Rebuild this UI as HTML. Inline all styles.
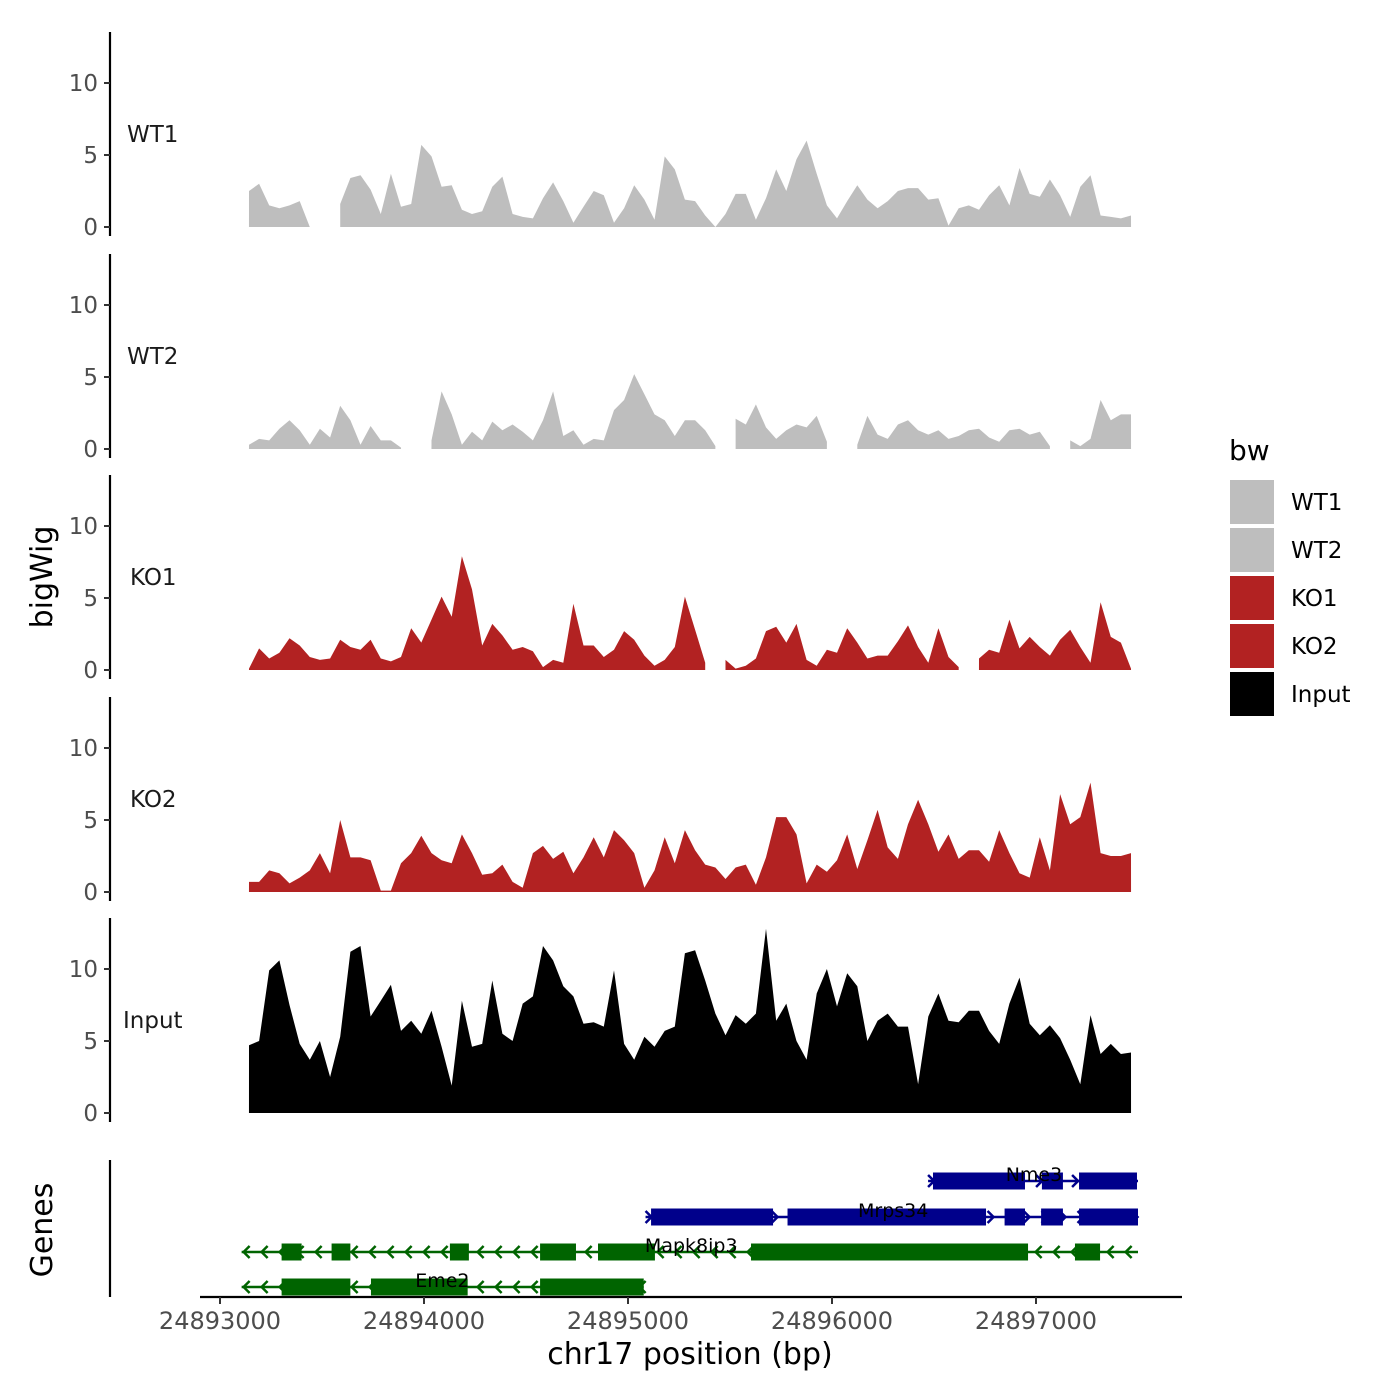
<!DOCTYPE html>
<html><head><meta charset="utf-8"><style>
html,body{margin:0;padding:0;background:#fff}
svg{display:block;font-family:"DejaVu Sans","Liberation Sans",sans-serif}
</style></head><body>
<svg id="chart" width="1400" height="1400" viewBox="0 0 1400 1400">
<rect width="1400" height="1400" fill="#fff"/>
<g id="tracks"></g>
<g id="genes"></g>
<g id="axes"></g>
<text x="52" y="577" transform="rotate(-90 52 577)" text-anchor="middle" font-size="30" fill="#000">bigWig</text>
<text x="52" y="1230" transform="rotate(-90 52 1230)" text-anchor="middle" font-size="30" fill="#000">Genes</text>
<text x="690" y="1364" text-anchor="middle" font-size="30" fill="#000">chr17 position (bp)</text>
<g id="legend">
<text x="1229" y="460" font-size="28" fill="#000">bw</text>
</g>
</svg>
<script>
const startBp = 24893142;
const stepBp = 49.7;
const trackNames = ["WT1","WT2","KO1","KO2","Input"];
const trackColors = ["#bebebe","#bebebe","#b22222","#b22222","#000000"];
const wt1 = [2.5,3.0,1.5,1.3,1.5,1.8,0,null,null,1.6,3.4,3.6,2.6,0.9,3.7,1.4,1.6,5.7,4.9,2.8,2.9,1.2,0.9,1.1,2.8,3.5,0.9,0.7,0.6,2.0,3.1,1.8,0.3,1.4,2.5,2.2,0.3,1.3,2.9,1.9,0.5,4.9,4.0,1.9,1.8,0.8,0,0.9,2.3,2.3,0.5,2.0,4.0,2.5,4.7,6.0,3.7,1.5,0.6,1.8,2.9,1.9,1.3,1.8,2.5,2.7,2.7,1.9,2.0,0.1,1.3,1.5,1.2,2.2,2.9,1.5,4.1,2.3,2.1,3.3,2.2,0.7,2.8,3.6,0.8,0.7,0.6,0.8];
const wt2 = [0.3,0.7,0.6,1.4,2.0,1.3,0.3,1.4,0.8,3.0,2.0,0.3,1.6,0.6,0.6,0.1,null,null,0.6,4.0,2.4,0.3,1.2,0.6,1.9,1.3,1.7,1.2,0.6,2.0,4.0,0.9,1.3,0.3,0.7,0.6,2.7,3.4,5.2,3.8,2.4,2.0,0.9,2.0,2.0,1.3,0.2,null,2.1,1.7,3.1,1.5,0.7,1.3,1.7,1.5,2.3,0.5,null,null,0.3,2.3,1.0,0.7,1.7,2.0,1.3,1.0,1.3,0.7,0.9,1.3,1.4,0.8,0.5,1.3,1.4,1.0,1.2,0.2,null,0.6,0.2,0.7,3.4,2.0,2.4,2.4];
const ko1 = [0.1,1.5,0.8,1.2,2.2,1.7,0.9,0.7,0.8,2.1,1.6,1.4,2.1,0.8,0.6,0.9,2.9,1.9,3.5,5.1,3.7,7.9,5.6,1.7,3.2,2.4,1.4,1.6,1.3,0.2,0.7,0.5,4.6,1.7,1.7,0.9,1.4,2.7,2.1,1.0,0.3,0.7,1.6,5.1,2.8,0.5,null,0.7,0.1,0.3,0.8,2.7,3.0,1.9,3.2,0.7,0.3,1.4,1.2,2.9,1.9,0.8,1.0,1.0,2.0,3.1,1.6,0.5,2.9,0.9,0.2,null,0.8,1.4,1.2,3.5,1.5,2.3,1.6,1.0,2.1,2.8,1.6,0.5,4.7,2.3,1.9,0.1];
const ko2 = [0.7,0.7,1.5,1.3,0.6,1.0,1.5,2.7,1.3,5.0,2.4,2.4,2.2,0.1,0.1,2.0,2.7,3.9,2.7,2.2,2.0,4.0,2.7,1.2,1.3,1.9,0.7,0.3,2.7,3.2,2.3,2.8,1.3,2.4,3.8,2.4,4.3,3.6,2.7,0.3,1.5,3.8,2.0,4.3,2.9,1.9,1.7,0.9,1.7,1.9,0.5,2.4,5.2,5.2,4.0,0.6,1.9,1.4,2.2,4.0,1.6,3.6,5.7,3.1,2.3,4.7,6.4,4.7,2.8,4.0,2.3,2.9,2.9,2.1,4.3,2.7,1.3,1.0,3.8,1.5,6.8,4.7,5.2,7.6,2.7,2.5,2.5,2.7];
const input = [4.7,5.0,9.9,10.6,7.5,4.8,3.7,5.0,2.5,5.3,11.2,11.6,6.7,7.8,8.9,5.7,6.4,5.5,7.1,4.6,1.9,7.8,4.6,4.8,9.2,5.5,5.0,7.6,8.1,11.6,10.6,8.8,8.1,6.2,6.3,6.0,9.9,4.8,3.7,5.3,4.6,5.7,6.0,11.1,11.3,9.2,6.9,5.4,6.8,6.2,6.9,12.8,6.4,7.6,5.0,3.7,8.3,10.0,7.4,9.7,8.8,5.0,6.4,6.9,6.0,6.0,2.0,6.7,8.3,6.4,6.3,7.1,7.1,5.7,4.8,7.6,9.4,6.2,5.4,6.1,5.2,3.7,2.0,6.8,4.1,4.8,4.1,4.2];
const trackValues = [wt1,wt2,ko1,ko2,input];
const yTicks = [0,5,10];
const xTicks = [24893000,24894000,24895000,24896000,24897000];
const geneNames = ["Nme3","Mrps34","Mapk8ip3","Eme2"];
const geneStrands = ["+","+","-","-"];
const geneStarts = [24896471,24895086,24893106,24893106];
const geneEnds = [24897500,24897500,24897500,24895077];
const geneExons = [
 [[24896495,24896946],[24897029,24897132],[24897211,24897495]],
 [[24895113,24895711],[24895782,24896755],[24896846,24896946],[24897025,24897132],[24897211,24897500]],
 [[24893302,24893400],[24893547,24893639],[24894127,24894220],[24894569,24894745],[24894853,24895132],[24895603,24896961],[24897191,24897314]],
 [[24893302,24893639],[24893740,24894214],[24894569,24895077]]
];
const geneLabelPos = [24896990,24896300,24895310,24894090];
const legendLabels = ["WT1","WT2","KO1","KO2","Input"];

const NS="http://www.w3.org/2000/svg";
function xScale(bp){return 220+(bp-24893000)*0.204;}
const trackZero=[227,449,670,892,1113];
function yScale(t,v){return trackZero[t]-v*14.4;}
function mk(tag,attrs,parent){const e=document.createElementNS(NS,tag);for(const k in attrs)e.setAttribute(k,attrs[k]);parent.appendChild(e);return e;}

const gT=document.getElementById('tracks');
const gA=document.getElementById('axes');
trackValues.forEach((vals,t)=>{
  let seg=[];const segs=[];
  vals.forEach((v,i)=>{if(v===null){if(seg.length)segs.push(seg);seg=[];}else seg.push(i);});
  if(seg.length)segs.push(seg);
  segs.forEach(s=>{
    let d='M'+xScale(startBp+s[0]*stepBp)+','+trackZero[t];
    s.forEach(i=>{d+='L'+xScale(startBp+i*stepBp).toFixed(1)+','+yScale(t,vals[i]).toFixed(1);});
    d+='L'+xScale(startBp+s[s.length-1]*stepBp)+','+trackZero[t]+'Z';
    const p=mk('path',{d:d,fill:trackColors[t]},gT);
    
    
  });
  const top=trackZero[t]-195, bot=trackZero[t]+9;
  const al=mk('line',{x1:110,x2:110,y1:top,y2:bot,stroke:'#000','stroke-width':2.2},gA);
  
  
  yTicks.forEach(v=>{
    const y=yScale(t,v);
    const tk=mk('line',{x1:104,x2:110,y1:y,y2:y,stroke:'#333','stroke-width':2},gA);
    
    
    const tx=mk('text',{x:98,y:y+8,'text-anchor':'end','font-size':23,fill:'#4d4d4d'},gA);
    tx.textContent=v;
    
    
  });
  const lb=mk('text',{x:t==4?123:(t<2?127:130),y:trackZero[t]-85,'font-size':23,fill:'#1a1a1a'},gA);
  lb.textContent=trackNames[t];
  
  
});

const gG=document.getElementById('genes');
const rowY=[1181,1217,1252,1287];
geneNames.forEach((name,g)=>{
  const col=geneStrands[g]=='+'?'#00008b':'#006400';
  const y=rowY[g];
  const x1=xScale(geneStarts[g]),x2=xScale(geneEnds[g]);
  const ln=mk('line',{x1:x1,x2:x2,y1:y,y2:y,stroke:col,'stroke-width':2.5},gG);
  
  
  for(let x=x1+4;x<x2-2;x+=18){
    const d=geneStrands[g]=='+'?`M${x-4},${y-6}L${x+2},${y}L${x-4},${y+6}`:`M${x+4},${y-6}L${x-2},${y}L${x+4},${y+6}`;
    const c=mk('path',{d:d,fill:'none',stroke:col,'stroke-width':2.5},gG);
    
    
  }
  geneExons[g].forEach(ex=>{
    const r=mk('rect',{x:xScale(ex[0]),y:y-8.5,width:xScale(ex[1])-xScale(ex[0]),height:17,fill:col},gG);
    
    
  });
  const tl=mk('text',{x:xScale(geneLabelPos[g]),y:y,'text-anchor':'middle','font-size':19,fill:'#000'},gG);
  tl.textContent=name;
  
  
});
const ga=mk('line',{x1:110,x2:110,y1:1160,y2:1297,stroke:'#000','stroke-width':2.2},gA);


const xa=mk('line',{x1:200,x2:1182,y1:1297,y2:1297,stroke:'#000','stroke-width':2.2},gA);


xTicks.forEach(b=>{
  const x=xScale(b);
  const tk=mk('line',{x1:x,x2:x,y1:1297,y2:1304,stroke:'#333','stroke-width':2},gA);
  
  
  const tx=mk('text',{x:x,y:1329,'text-anchor':'middle','font-size':24,fill:'#4d4d4d'},gA);
  tx.textContent=b;
  
  
});
const gL=document.getElementById('legend');
legendLabels.forEach((l,i)=>{
  const y=480+i*48;
  const r=mk('rect',{x:1230,y:y,width:44,height:44,fill:trackColors[i]},gL);
  
  
  const t=mk('text',{x:1291,y:y+30,'font-size':23,fill:'#000'},gL);
  t.textContent=l;
  
  
});
</script>
</body></html>
